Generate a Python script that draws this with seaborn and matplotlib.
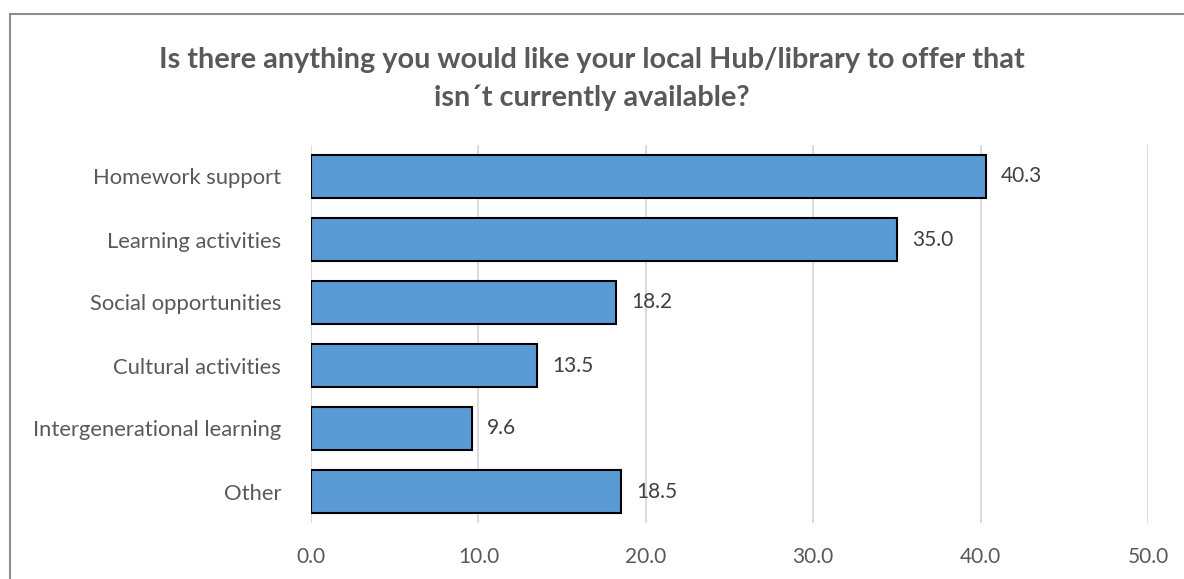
import matplotlib
matplotlib.use("Agg")
import matplotlib.pyplot as plt
import seaborn as sns
import pandas as pd
from matplotlib.patches import Rectangle

categories = [
    "Homework support",
    "Learning activities",
    "Social opportunities",
    "Cultural activities",
    "Intergenerational learning",
    "Other",
]
values = [40.3, 35.0, 18.2, 13.5, 9.6, 18.5]
x_ticks = [0, 10, 20, 30, 40, 50]
title = "Is there anything you would like your local Hub/library to offer that\nisn\u00b4t currently available?"

df = pd.DataFrame({"category": categories, "value": values})

sns.set_theme(style="white")
plt.rcParams["font.family"] = ["Lato", "DejaVu Sans"]

fig = plt.figure(figsize=(11.84, 5.79), dpi=100)
ax = fig.add_axes([311 / 1184, 1 - 523 / 579, (1148 - 311) / 1184, (523 - 145) / 579])

sns.barplot(
    data=df, x="value", y="category", orient="h", ax=ax,
    color="#5B9BD5", edgecolor="black", linewidth=1.5, width=0.68,
    saturation=1,
)

ax.set_xlim(0, 50)
ax.set_xticks(x_ticks)
ax.set_xticklabels([f"{t:.1f}" for t in x_ticks])
ax.set_xlabel("")
ax.set_ylabel("")
ax.set_axisbelow(True)
ax.grid(axis="x", color="#D9D9D9", linewidth=1.3)
ax.grid(axis="y", visible=False)
for side in ["top", "right", "bottom", "left"]:
    ax.spines[side].set_visible(False)
ax.tick_params(axis="x", length=0, pad=17, labelsize=15, labelcolor="#595959")
ax.tick_params(axis="y", length=0, pad=21.5, labelsize=15.8, labelcolor="#595959")

for cont in ax.containers:
    ax.bar_label(cont, labels=[f"{v:.1f}" for v in values], padding=11,
                 fontsize=15, color="#404040")

fig.text(0.5, 1 - 79 / 579, title, ha="center", va="center", fontsize=20.8,
         fontweight="bold", color="#595959", linespacing=1.55)

fig.patches.append(Rectangle((10 / 1184, -0.2), 1.2, 1.2 - 13.5 / 579,
                             transform=fig.transFigure, fill=False,
                             edgecolor="#8C8C8C", linewidth=1.5))

fig.savefig("out.png", dpi=100, facecolor="white")
